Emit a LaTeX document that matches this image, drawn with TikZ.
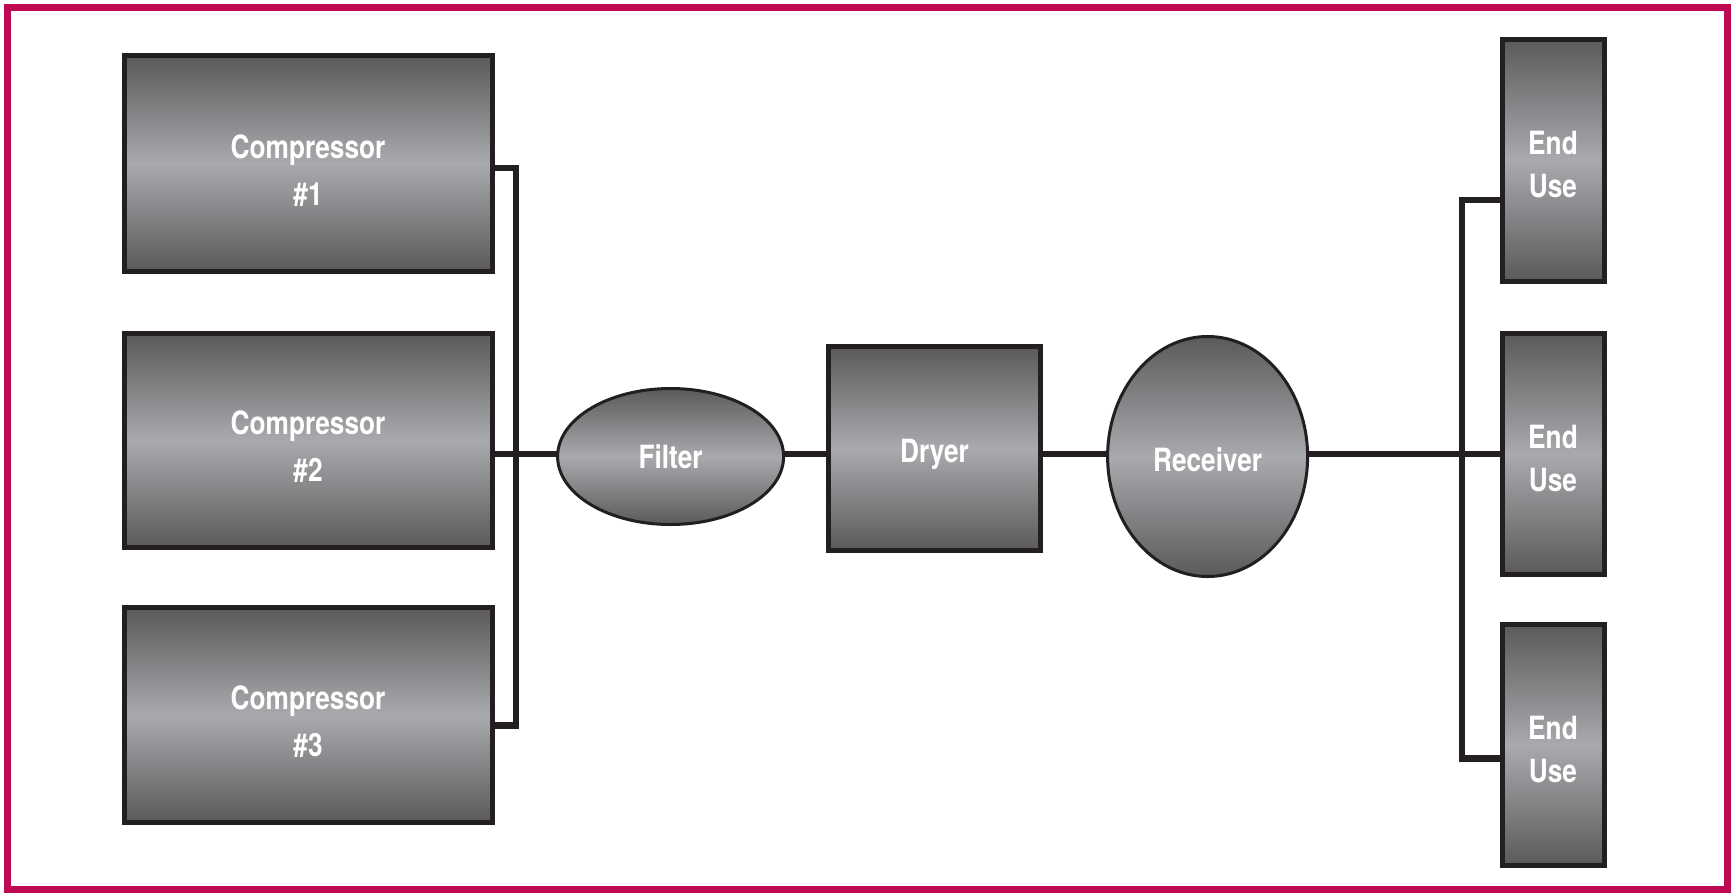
\documentclass[tikz,border=0pt]{standalone}
\usepackage{fontspec}
\newfontfamily\labelfont{TeX Gyre Heros}[FakeStretch=0.82]
\usetikzlibrary{shapes.geometric}
\definecolor{frameRed}{HTML}{BE0A52}
\definecolor{unitEdge}{HTML}{231F20}
\definecolor{unitDark}{HTML}{5A5A5C}
\definecolor{unitLight}{HTML}{A9AAAD}
% label lowered inside its unit, keeping its natural size
\newcommand{\lowered}[2]{\raisebox{#1}[\height][\depth]{#2}}
% two-line label: lines, extra line gap, downward shift
\newcommand{\twoline}[4]{\lowered{#4}{\begin{tabular}{@{}c@{}}#1\\[#3]#2\end{tabular}}}
\tikzset{
  unit/.style={draw=unitEdge, inner sep=0pt, outer sep=0pt,
    top color=unitDark, bottom color=unitDark, middle color=unitLight,
    text=white, align=center,
    font=\labelfont\bfseries\fontsize{32}{47}\selectfont},
  boxunit/.style={unit, rectangle, line width=5pt},
  roundunit/.style={unit, ellipse, line width=3pt},
  pipe/.style={draw=unitEdge, line width=6.5pt}
}
\begin{document}
\begin{tikzpicture}[x=1pt, y=-1pt]
  \useasboundingbox (0,0) rectangle (1734,895);
  % outer frame
  \draw[frameRed, line width=7pt] (7.5,7.5) rectangle (1727.5,889.5);

  % compressors
  \node[boxunit, minimum width=368pt, minimum height=216pt] (c1) at (308,163.5) {\twoline{Compressor}{\#1}{0pt}{-9pt}};
  \node[boxunit, minimum width=368pt, minimum height=214pt] (c2) at (308,440) {\twoline{Compressor}{\#2}{0pt}{-9pt}};
  \node[boxunit, minimum width=368pt, minimum height=215pt] (c3) at (308,715) {\twoline{Compressor}{\#3}{0pt}{-9pt}};

  % treatment train
  \node[roundunit, minimum width=226pt, minimum height=136pt] (filter) at (670.6,456.5) {Filter};
  \node[boxunit, minimum width=212pt, minimum height=204pt] (dryer) at (934.5,448.5) {\lowered{-6pt}{Dryer}};
  \node[roundunit, minimum width=200pt, minimum height=240pt] (receiver) at (1207.6,456.5) {\lowered{-3pt}{Receiver}};

  % end uses
  \node[boxunit, minimum width=102pt, minimum height=242pt] (e1) at (1553,160) {\twoline{End}{Use}{-4pt}{-7pt}};
  \node[boxunit, minimum width=102pt, minimum height=241pt] (e2) at (1553,454) {\twoline{End}{Use}{-4pt}{-7pt}};
  \node[boxunit, minimum width=102pt, minimum height=241pt] (e3) at (1553,745) {\twoline{End}{Use}{-4pt}{-7pt}};

  % header and manifold junctions
  \coordinate (inTop) at (516,168);
  \coordinate (inBot) at (516,725.5);
  \coordinate (main) at (516,454);
  \coordinate (outTop) at (1462,200);
  \coordinate (outBot) at (1462,758.5);

  % compressor discharge header
  \draw[pipe] (c1.east |- inTop) -- (inTop) -- (inBot) -- (c3.east |- inBot);
  \draw[pipe] (c2.east |- main) -- (filter.west |- main);

  % main line
  \draw[pipe] (filter.east |- main) -- (dryer.west |- main);
  \draw[pipe] (dryer.east |- main) -- (receiver.west |- main);
  \draw[pipe] (receiver.east |- main) -- (e2.west |- main);

  % distribution manifold
  \draw[pipe] (e1.west |- outTop) -- (outTop) -- (outBot) -- (e3.west |- outBot);
\end{tikzpicture}
\end{document}
